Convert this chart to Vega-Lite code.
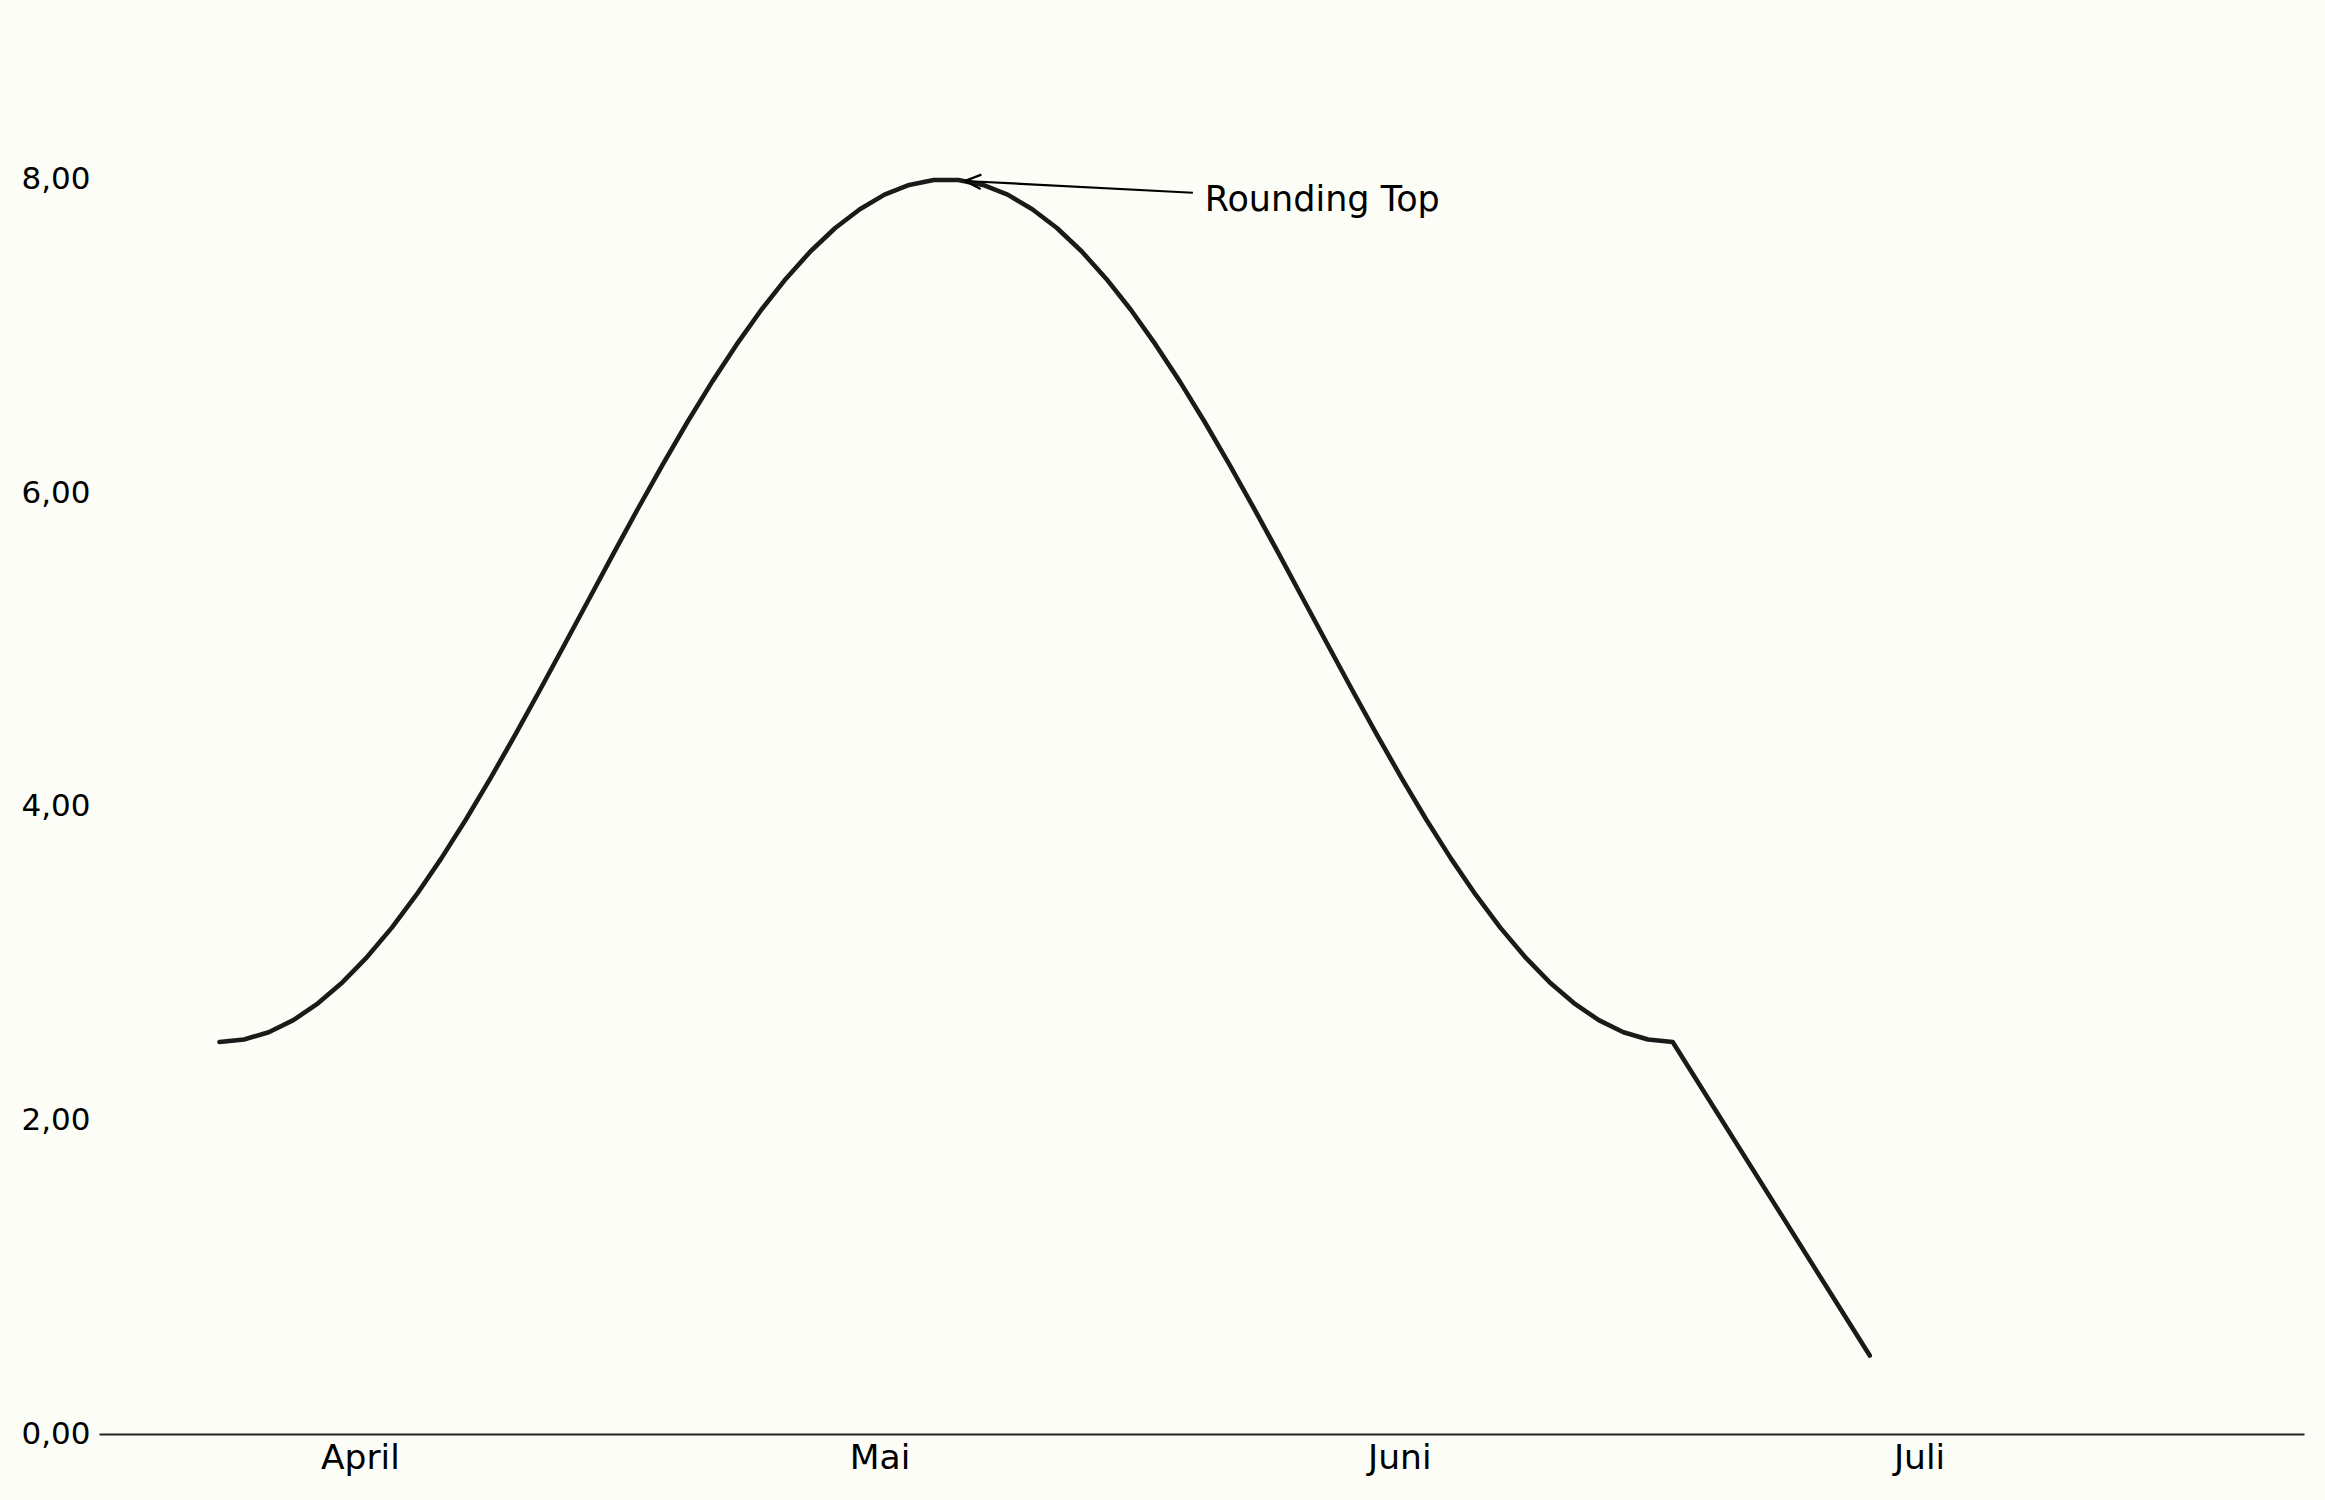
{
  "$schema": "https://vega.github.io/schema/vega-lite/v6.json",
  "width": 2205,
  "height": 1333,
  "autosize": {"type": "none"},
  "padding": {"left": 99, "top": 101, "right": 21, "bottom": 66},
  "background": "#fdfdf7",
  "config": {
    "view": {"stroke": null},
    "font": "DejaVu Sans"
  },
  "datasets": {
    "series": [
      {"t": 0, "v": 2.500}, {"t": 1, "v": 2.516}, {"t": 2, "v": 2.562}, {"t": 3, "v": 2.639}, {"t": 4, "v": 2.746},
      {"t": 5, "v": 2.881}, {"t": 6, "v": 3.043}, {"t": 7, "v": 3.229}, {"t": 8, "v": 3.439}, {"t": 9, "v": 3.669},
      {"t": 10, "v": 3.917}, {"t": 11, "v": 4.181}, {"t": 12, "v": 4.456}, {"t": 13, "v": 4.741}, {"t": 14, "v": 5.031},
      {"t": 15, "v": 5.323}, {"t": 16, "v": 5.615}, {"t": 17, "v": 5.903}, {"t": 18, "v": 6.183}, {"t": 19, "v": 6.453},
      {"t": 20, "v": 6.709}, {"t": 21, "v": 6.948}, {"t": 22, "v": 7.169}, {"t": 23, "v": 7.367}, {"t": 24, "v": 7.542},
      {"t": 25, "v": 7.690}, {"t": 26, "v": 7.810}, {"t": 27, "v": 7.903}, {"t": 28, "v": 7.965}, {"t": 29, "v": 7.996},
      {"t": 30, "v": 7.996}, {"t": 31, "v": 7.965}, {"t": 32, "v": 7.903}, {"t": 33, "v": 7.810}, {"t": 34, "v": 7.690},
      {"t": 35, "v": 7.542}, {"t": 36, "v": 7.367}, {"t": 37, "v": 7.169}, {"t": 38, "v": 6.948}, {"t": 39, "v": 6.709},
      {"t": 40, "v": 6.453}, {"t": 41, "v": 6.183}, {"t": 42, "v": 5.903}, {"t": 43, "v": 5.615}, {"t": 44, "v": 5.323},
      {"t": 45, "v": 5.031}, {"t": 46, "v": 4.741}, {"t": 47, "v": 4.456}, {"t": 48, "v": 4.181}, {"t": 49, "v": 3.917},
      {"t": 50, "v": 3.669}, {"t": 51, "v": 3.439}, {"t": 52, "v": 3.229}, {"t": 53, "v": 3.043}, {"t": 54, "v": 2.881},
      {"t": 55, "v": 2.746}, {"t": 56, "v": 2.639}, {"t": 57, "v": 2.562}, {"t": 58, "v": 2.516}, {"t": 59, "v": 2.500},
      {"t": 67, "v": 0.500}
    ],
    "note": [
      {"t": 40, "v": 7.8, "label": "Rounding Top", "t0": 39.52, "v0": 7.915, "t1": 30.27, "v1": 7.99}
    ]
  },
  "layer": [
    {
      "data": {"name": "series"},
      "mark": {"type": "line", "color": "#1a1a1a", "strokeWidth": 4.6, "strokeCap": "round", "strokeJoin": "round"},
      "encoding": {
        "x": {
          "field": "t", "type": "quantitative",
          "scale": {"domain": [-4.89, 84.63], "nice": false, "zero": false},
          "axis": {
            "title": null,
            "values": [5.7, 26.8, 47.9, 69.0],
            "labelExpr": "datum.value < 10 ? 'April' : datum.value < 30 ? 'Mai' : datum.value < 50 ? 'Juni' : 'Juli'",
            "grid": false, "ticks": false, "tickSize": 0,
            "domain": true, "domainColor": "#222222", "domainWidth": 2,
            "labelFont": "DejaVu Sans", "labelFontSize": 34.5, "labelColor": "#000000",
            "labelPadding": 7, "labelBaseline": "top", "labelFlush": false, "labelOverlap": false
          }
        },
        "y": {
          "field": "v", "type": "quantitative",
          "scale": {"domain": [0, 8.5], "nice": false, "zero": true},
          "axis": {
            "title": null,
            "values": [0, 2, 4, 6, 8],
            "labelExpr": "replace(format(datum.value, '.2f'), '.', ',')",
            "grid": false, "ticks": false, "tickSize": 0, "domain": false,
            "labelFont": "DejaVu Sans", "labelFontSize": 31, "labelColor": "#000000",
            "labelPadding": 9, "labelFlush": false, "labelOverlap": false
          }
        }
      }
    },
    {
      "data": {"name": "note"},
      "mark": {"type": "rule", "color": "#000000", "strokeWidth": 2.2},
      "encoding": {
        "x": {"field": "t0", "type": "quantitative"},
        "y": {"field": "v0", "type": "quantitative"},
        "x2": {"field": "t1"},
        "y2": {"field": "v1"}
      }
    },
    {
      "data": {"name": "note"},
      "mark": {"type": "point", "shape": "M 1 -0.45 L 0 0 L 1 0.45", "size": 1024, "filled": false, "stroke": "#000000", "strokeWidth": 2.2, "angle": 3, "opacity": 1},
      "encoding": {
        "x": {"field": "t1", "type": "quantitative"},
        "y": {"field": "v1", "type": "quantitative"}
      }
    },
    {
      "data": {"name": "note"},
      "mark": {"type": "text", "align": "left", "baseline": "alphabetic", "font": "DejaVu Sans", "fontSize": 35, "color": "#000000"},
      "encoding": {
        "x": {"field": "t", "type": "quantitative"},
        "y": {"field": "v", "type": "quantitative"},
        "text": {"field": "label"}
      }
    }
  ]
}
